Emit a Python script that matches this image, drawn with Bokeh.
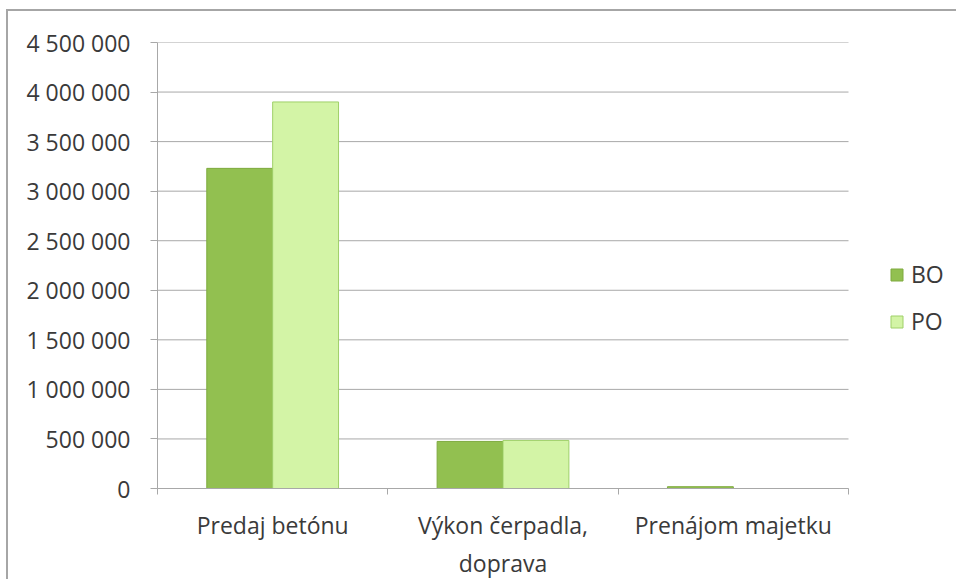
from bokeh.plotting import figure
from bokeh.models import (ColumnDataSource, Range1d, LinearAxis, FixedTicker,
                          Legend, LegendItem)
from bokeh.transform import dodge
from bokeh.embed import file_html
from bokeh.resources import INLINE

categories = ["Predaj betónu", "Výkon čerpadla,\ndoprava", "Prenájom majetku"]
bo_values = [3230000, 475000, 18000]
po_values = [3900000, 485000, 0]
y_ticks = [0, 500000, 1000000, 1500000, 2000000, 2500000, 3000000, 3500000, 4000000, 4500000]
y_tick_labels = ["0", "500 000", "1 000 000", "1 500 000", "2 000 000", "2 500 000",
                 "3 000 000", "3 500 000", "4 000 000", "4 500 000"]
series_names = ["BO", "PO"]

FONT = "Open Sans"
FS = "23px"
TEXT = "#3a3a3a"
GRID = "#a8a8a8"
BO_FILL, BO_LINE = "#92c050", "#7eaa3e"
PO_FILL, PO_LINE = "#d3f4a6", "#9fd069"

W, H = 950, 570
LEFT, TOP, BOTTOM = 149, 31, 88
PLOT_W = 691  # pixel width of the category area

n = len(categories)
centers = [i + 0.5 for i in range(n)]
src = ColumnDataSource(dict(xc=centers, bo=bo_values, po=po_values))
grid_src = ColumnDataSource(dict(y=y_ticks, x0=[0] * len(y_ticks), x1=[n] * len(y_ticks)))

x_end = n * (W - LEFT) / PLOT_W
p = figure(x_range=Range1d(0, x_end), y_range=Range1d(0, 4500000),
           width=W, height=H, output_backend="svg", toolbar_location=None,
           x_axis_location=None, y_axis_location=None,
           min_border_left=LEFT, min_border_right=0, min_border_top=TOP,
           min_border_bottom=BOTTOM)
p.styles = {"border-left": "2px solid #a6a6a6", "border-top": "2px solid #a6a6a6",
            "margin-top": "9px", "margin-left": "6px"}
p.outline_line_color = None
p.background_fill_color = "white"
p.border_fill_color = "white"

# y axis
yax = LinearAxis(ticker=FixedTicker(ticks=y_ticks))
yax.major_label_overrides = {t: l for t, l in zip(y_ticks, y_tick_labels)}
yax.major_label_text_font = FONT
yax.major_label_text_font_size = FS
yax.major_label_text_color = TEXT
yax.axis_line_color = GRID
yax.major_tick_line_color = GRID
yax.major_tick_out = 7
yax.major_tick_in = 0
yax.minor_tick_line_color = None
yax.major_label_standoff = 20
p.add_layout(yax, "left")

# boundary tick marks on x
bounds_ticks = list(range(n + 1))
tax = LinearAxis(ticker=FixedTicker(ticks=bounds_ticks), bounds=(0, n))
tax.major_label_overrides = {t: "" for t in bounds_ticks}
tax.major_label_text_font_size = "0px"
tax.major_label_standoff = 0
tax.axis_line_color = GRID
tax.major_tick_line_color = GRID
tax.major_tick_out = 6
tax.major_tick_in = 0
tax.minor_tick_line_color = None
p.add_layout(tax, "below")

# category labels
xax = LinearAxis(ticker=FixedTicker(ticks=centers))
xax.major_label_overrides = {c: l for c, l in zip(centers, categories)}
xax.major_label_text_font = FONT
xax.major_label_text_font_size = FS
xax.major_label_text_color = TEXT
xax.axis_line_color = None
xax.major_tick_line_color = None
xax.minor_tick_line_color = None
xax.major_label_standoff = 8
p.add_layout(xax, "below")

p.xgrid.grid_line_color = None
p.ygrid.grid_line_color = None
p.segment(x0="x0", x1="x1", y0="y", y1="y", source=grid_src,
          line_color=GRID, line_width=1)

r1 = p.vbar(x=dodge("xc", -0.143), top="bo", width=0.286, source=src,
            fill_color=BO_FILL, line_color=BO_LINE, line_width=1)
r2 = p.vbar(x=dodge("xc", 0.143), top="po", width=0.286, source=src,
            fill_color=PO_FILL, line_color=PO_LINE, line_width=1)

legend = Legend(items=[LegendItem(label=series_names[0], renderers=[r1]),
                       LegendItem(label=series_names[1], renderers=[r2])],
                location=(732, 151), orientation="vertical")
legend.label_text_font = FONT
legend.label_text_font_size = FS
legend.label_text_color = TEXT
legend.glyph_width = 15
legend.glyph_height = 15
legend.label_standoff = 7
legend.spacing = 15
legend.padding = 0
legend.margin = 0
legend.border_line_color = None
legend.background_fill_alpha = 0
p.add_layout(legend, "center")

open("out.html", "w").write(file_html(p, INLINE))
